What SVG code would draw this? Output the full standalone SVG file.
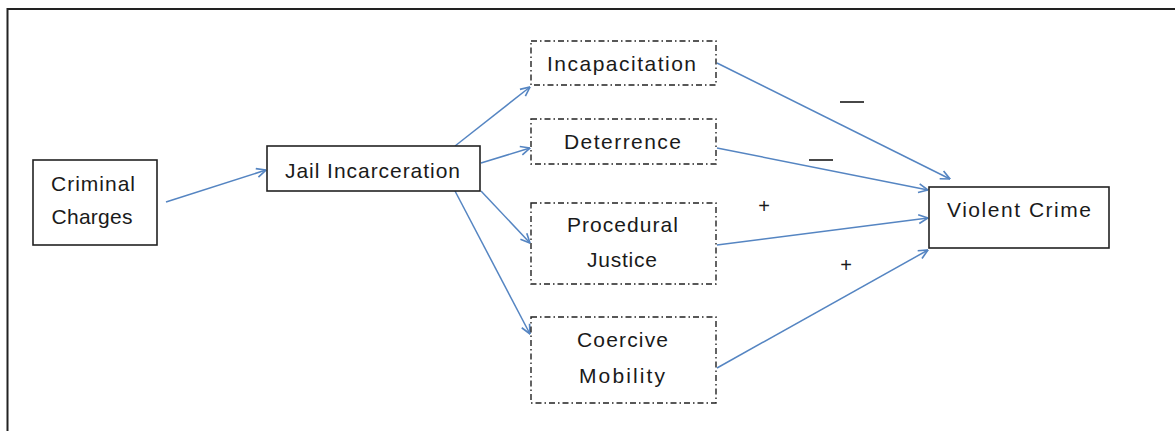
<svg xmlns="http://www.w3.org/2000/svg" width="1175" height="431" viewBox="0 0 1175 431">
<defs>
<style>
.box{fill:#fff;stroke:#222;stroke-width:1.6}
.dbox{fill:#fff;stroke:#222;stroke-width:1.4;stroke-dasharray:6 3 1.5 3}
.t{font-family:"Liberation Sans",Arial,sans-serif;font-size:21px;fill:#1a1a1a;text-anchor:middle}
.c{fill:none;stroke:#5585c2;stroke-width:1.5}
.sign{font-family:"Liberation Sans",Arial,sans-serif;font-size:20px;fill:#1a1a1a;text-anchor:middle}
</style>
<marker id="ah" viewBox="0 0 10 10" refX="9.5" refY="5" markerWidth="11" markerHeight="11" markerUnits="userSpaceOnUse" orient="auto">
<path d="M1,1 L9.5,5 L1,9" fill="none" stroke="#5585c2" stroke-width="1.5"/>
</marker>
</defs>
<rect x="0" y="0" width="1175" height="431" fill="#fff"/>
<path d="M7.5,440 V9 H1175" fill="none" stroke="#222" stroke-width="2"/>
<g id="connectors">
<line class="c" x1="166" y1="202" x2="266" y2="170" marker-end="url(#ah)"/>
<line class="c" x1="455" y1="146" x2="530" y2="87" marker-end="url(#ah)"/>
<line class="c" x1="481" y1="163" x2="530" y2="148" marker-end="url(#ah)"/>
<line class="c" x1="481" y1="191" x2="530" y2="243" marker-end="url(#ah)"/>
<line class="c" x1="455" y1="191" x2="530" y2="334" marker-end="url(#ah)"/>
<line class="c" x1="717" y1="63" x2="950" y2="179" marker-end="url(#ah)"/>
<line class="c" x1="717" y1="148" x2="928" y2="190" marker-end="url(#ah)"/>
<line class="c" x1="717" y1="245" x2="928" y2="218" marker-end="url(#ah)"/>
<line class="c" x1="717" y1="368" x2="928" y2="250" marker-end="url(#ah)"/>
<line x1="840" y1="102" x2="864" y2="102" stroke="#1a1a1a" stroke-width="1.6"/>
<line x1="809" y1="160" x2="833" y2="160" stroke="#1a1a1a" stroke-width="1.6"/>
<text class="sign" x="764" y="213">+</text>
<text class="sign" x="846" y="272">+</text>
</g>
<g id="criminal-charges">
<rect class="box" x="33" y="160" width="124" height="85"/>
<text class="t" x="93" y="191" textLength="84" lengthAdjust="spacing">Criminal</text>
<text class="t" x="92" y="224" textLength="81" lengthAdjust="spacing">Charges</text>
</g>
<g id="jail-incarceration">
<rect class="box" x="267" y="146" width="213" height="45"/>
<text class="t" x="372.5" y="178" textLength="175" lengthAdjust="spacing">Jail Incarceration</text>
</g>
<g id="incapacitation">
<rect class="dbox" x="531" y="41" width="185" height="44"/>
<text class="t" x="621.5" y="71" textLength="149" lengthAdjust="spacing">Incapacitation</text>
</g>
<g id="deterrence">
<rect class="dbox" x="531" y="119" width="185" height="45"/>
<text class="t" x="622.5" y="149" textLength="117" lengthAdjust="spacing">Deterrence</text>
</g>
<g id="procedural-justice">
<rect class="dbox" x="531" y="203" width="185" height="81"/>
<text class="t" x="622.5" y="232" textLength="111" lengthAdjust="spacing">Procedural</text>
<text class="t" x="622" y="267" textLength="70" lengthAdjust="spacing">Justice</text>
</g>
<g id="coercive-mobility">
<rect class="dbox" x="531" y="317" width="185" height="86"/>
<text class="t" x="622.5" y="347" textLength="91" lengthAdjust="spacing">Coercive</text>
<text class="t" x="622" y="383" textLength="86" lengthAdjust="spacing">Mobility</text>
</g>
<g id="violent-crime">
<rect class="box" x="929" y="187" width="180" height="61"/>
<text class="t" x="1019" y="217" textLength="144" lengthAdjust="spacing">Violent Crime</text>
</g>
</svg>
